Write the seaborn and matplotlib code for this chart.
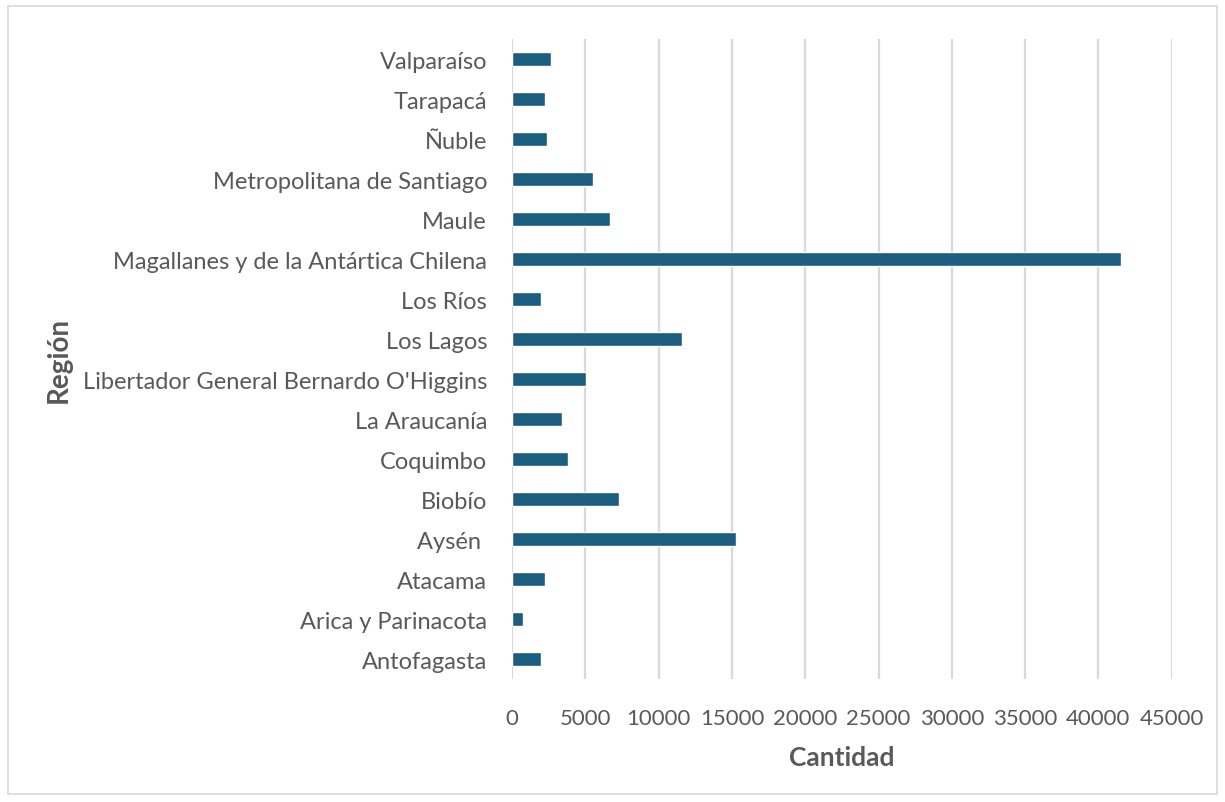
import matplotlib
matplotlib.use("Agg")
import matplotlib.pyplot as plt
import seaborn as sns
import pandas as pd
from matplotlib.patches import Rectangle

# ── Data ───────────────────────────────────────────────────────────────────────
regiones = [
    "Valparaíso", "Tarapacá", "Ñuble", "Metropolitana de Santiago", "Maule",
    "Magallanes y de la Antártica Chilena", "Los Ríos", "Los Lagos",
    "Libertador General Bernardo O'Higgins", "La Araucanía", "Coquimbo",
    "Biobío", "Aysén ", "Atacama", "Arica y Parinacota", "Antofagasta",
]
cantidad = [2650, 2250, 2370, 5520, 6650, 41530, 1990, 11580,
            5050, 3390, 3800, 7310, 15290, 2280, 760, 1990]
x_ticks = list(range(0, 45001, 5000))

BAR_COLOR = "#1b5e80"
TEXT_COLOR = "#595959"
GRID_COLOR = "#d9d9d9"

df = pd.DataFrame({"Región": regiones, "Cantidad": cantidad})

sns.set_style("white")
plt.rcParams["font.family"] = ["Lato", "DejaVu Sans"]

fig = plt.figure(figsize=(12.25, 8.03), dpi=100)
ax = fig.add_axes([0.418, 0.153, 0.5385, 0.797])

sns.barplot(data=df, x="Cantidad", y="Región", orient="h", color=BAR_COLOR,
            width=0.35, saturation=1, ax=ax, zorder=3)

ax.set_xlim(0, 45000)
ax.set_xticks(x_ticks)
ax.set_xticklabels([str(t) for t in x_ticks])
ax.grid(axis="x", color=GRID_COLOR, linewidth=1.6, zorder=0)
ax.grid(axis="y", visible=False)
for s in ax.spines.values():
    s.set_visible(False)
ax.tick_params(axis="both", length=0, labelcolor=TEXT_COLOR)
ax.tick_params(axis="x", pad=21, labelsize=16)
ax.tick_params(axis="y", pad=18, labelsize=17)

ax.set_xlabel("Cantidad", fontsize=19, fontweight="bold", color=TEXT_COLOR, labelpad=12)
ax.set_ylabel("Región", fontsize=20, fontweight="bold", color=TEXT_COLOR, labelpad=8)

# light chart border like the Excel chart area
fig.patches.append(Rectangle((8 / 1225, 8 / 803), 1209 / 1225, 788 / 803,
                             transform=fig.transFigure, fill=False,
                             edgecolor="#d9d9d9", linewidth=1.2))

fig.savefig("out.png", dpi=100)
